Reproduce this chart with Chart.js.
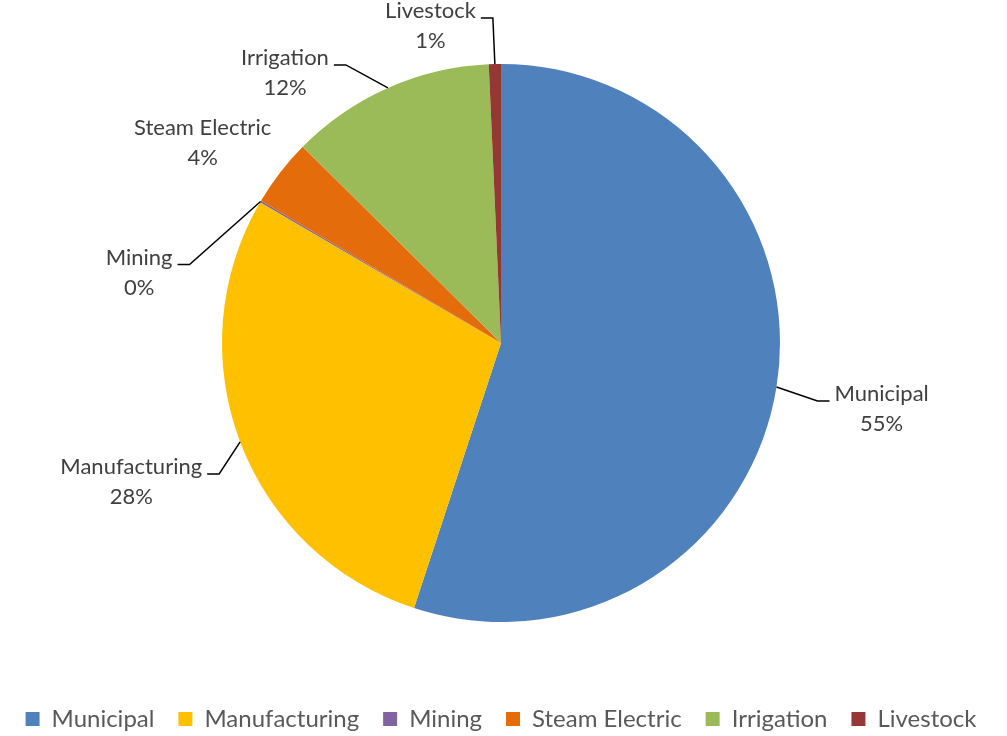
<!DOCTYPE html>
<html>
<head>
<meta charset="utf-8">
<script src="https://cdn.jsdelivr.net/npm/chart.js@4.4.1/dist/chart.umd.min.js"></script>
<style>
  html, body { margin: 0; padding: 0; background: #fff; }
  #wrap { width: 1007px; height: 736px; }
</style>
</head>
<body>
<div id="wrap"><canvas id="pie"></canvas></div>
<script>
(function () {
    'use strict';

    var categories = ['Municipal', 'Manufacturing', 'Mining', 'Steam Electric', 'Irrigation', 'Livestock'];
    var shares = [55.1, 28.4, 0.1, 3.9, 11.9, 0.7];
    var colors = ['#4F81BD', '#FFC000', '#8064A2', '#E46C0A', '#9BBB59', '#953735'];

    // elbow of each leader line, relative to the slice's outer midpoint
    var elbows = [[41, 14], [-21, 32], [-71, 63], [8, -38], [-42, -23], [-2, -46]];
    var sides = ['right', 'left', 'left', 'left', 'left', 'left'];
    var showLine = [true, true, true, false, true, true];

    var FONT = 'Lato, "Noto Sans", sans-serif';

    // =========================================================================
    // Data labels with leader lines
    // =========================================================================

    var leaderLabels = {
        id: 'leaderLabels',
        afterDatasetsDraw: function (chart) {
            var ctx = chart.ctx;
            var meta = chart.getDatasetMeta(0);
            var data = chart.data.datasets[0].data;
            var total = data.reduce(function (a, b) { return a + b; }, 0);

            ctx.save();
            ctx.font = '22px ' + FONT;
            ctx.textBaseline = 'middle';

            meta.data.forEach(function (arc, i) {
                var p = arc.getProps(['x', 'y', 'startAngle', 'endAngle', 'outerRadius'], true);
                var mid = (p.startAngle + p.endAngle) / 2;
                var ax = p.x + Math.cos(mid) * p.outerRadius;
                var ay = p.y + Math.sin(mid) * p.outerRadius;
                var ex = ax + elbows[i][0];
                var ey = ay + elbows[i][1];
                var dir = sides[i] === 'right' ? 1 : -1;
                var endX = ex + dir * 12;

                if (showLine[i]) {
                    ctx.strokeStyle = '#000';
                    ctx.lineWidth = 1.5;
                    ctx.beginPath();
                    ctx.moveTo(ax, ay);
                    ctx.lineTo(ex, ey);
                    ctx.lineTo(endX, ey);
                    ctx.stroke();
                }

                var line1 = categories[i];
                var line2 = Math.round(data[i] / total * 100) + '%';
                var w = Math.max(ctx.measureText(line1).width, ctx.measureText(line2).width);
                var cx = dir > 0 ? endX + 5 + w / 2 : endX - 5 - w / 2;

                ctx.fillStyle = '#404040';
                ctx.textAlign = 'center';
                ctx.fillText(line1, cx, ey - 7);
                ctx.fillText(line2, cx, ey + 23);
            });

            ctx.restore();
        }
    };

    // =========================================================================
    // Chart
    // =========================================================================

    new Chart(document.getElementById('pie'), {
        type: 'pie',
        data: {
            labels: categories,
            datasets: [{
                data: shares,
                backgroundColor: colors,
                borderWidth: 0,
                radius: 279
            }]
        },
        options: {
            responsive: true,
            maintainAspectRatio: false,
            animation: false,
            layout: {
                padding: { top: 3, right: 5, left: 0, bottom: -5 }
            },
            plugins: {
                tooltip: { enabled: false },
                legend: {
                    position: 'bottom',
                    labels: {
                        boxWidth: 14,
                        boxHeight: 14,
                        padding: 24,
                        color: '#595959',
                        font: { family: FONT, size: 24 }
                    }
                }
            }
        },
        plugins: [leaderLabels]
    });
})();
</script>
</body>
</html>
